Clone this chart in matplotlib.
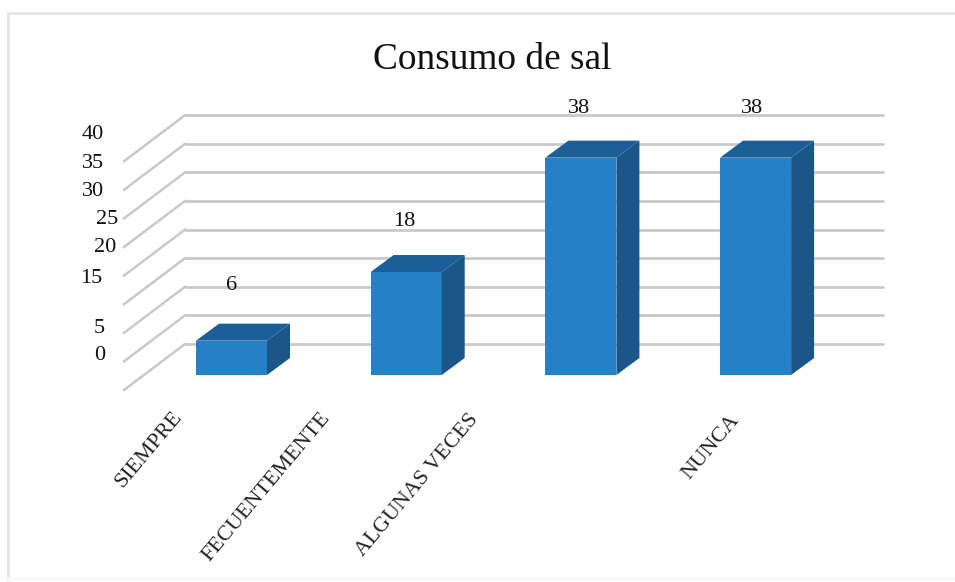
import matplotlib

matplotlib.use("Agg")
import matplotlib.pyplot as plt
from matplotlib.patches import Polygon, Rectangle

title = "Consumo de sal"
categories = ["SIEMPRE", "FECUENTEMENTE", "ALGUNAS VECES", "NUNCA"]
values = [6, 18, 38, 38]
grid_values = [0, 5, 10, 15, 20, 25, 30, 35, 40]
tick_labels = [0, 5, 15, 20, 25, 30, 35, 40]

W, H = 955, 582
PX_Y = 5.72  # pixels per unit
PX_X = 174.7  # pixels per category
X0 = 231.5  # pixel of first category
Y0 = 375  # pixel of value 0 at the bar front


def px(x, y):
    # pixel to data, only for offsets of the fake 3d box
    return (x - X0) / PX_X, (Y0 - y) / PX_Y


plt.rcParams["font.family"] = ["Liberation Serif", "DejaVu Serif"]

fig = plt.figure(figsize=(W / 100, H / 100), dpi=100)
ax = fig.add_axes([0, 0, 1, 1])
ax.set_xlim(px(0, 0)[0], px(W, 0)[0])
ax.set_ylim(px(0, H)[1], px(0, 0)[1])
ax.axis("off")

grid_color = "#c9c9c9"
front_color = "#2580c6"
top_color = "#1b5e98"
side_color = "#1a5788"

# outer frame, top and left are the only clear sides
ax.plot([8 / W, 8 / W, 1], [1 - 579 / H, 1 - 13 / H, 1 - 13 / H], transform=fig.transFigure,
        color="#e6e6e6", lw=2.2, zorder=1)
ax.plot([8 / W, 1], [1 - 579 / H, 1 - 579 / H], transform=fig.transFigure, color="#f8f8f8", lw=2, zorder=1)

# wall depth, from bar-front plane to the back wall
wall_dx = (185 - X0) / PX_X
wall_left = (124 - X0) / PX_X
wall_right = (884 - X0) / PX_X
wall_dy = (375 - 344) / PX_Y
floor_dy = (375 - 390) / PX_Y

for v in grid_values:
    ax.plot([wall_dx, wall_right], [v + wall_dy, v + wall_dy], color=grid_color, lw=2.0, zorder=2,
            solid_capstyle="butt")
    ax.plot([wall_left, wall_dx], [v + floor_dy, v + wall_dy], color=grid_color, lw=1.8, zorder=2)

# labels wander in the original, so each has its own offset
label_x = {0: 105, 5: 105, 15: 102, 20: 116, 25: 118, 30: 104, 35: 104, 40: 104}
label_dy = {0: 11, 5: 13, 15: 20, 20: 18, 25: 19, 30: 19, 35: 20, 40: 19}
for v in tick_labels:
    ax.annotate(str(v), (label_x[v] / W, v + wall_dy), xycoords=("figure fraction", "data"),
                xytext=(0, -label_dy[v] * 0.72), textcoords="offset points",
                ha="right", va="center", fontsize=16, color="#111111", zorder=6)

half = 35.5 / PX_X
depth_x = 23 / PX_X
depth_y = 17 / PX_Y

value_lift = [55, 51, 49, 49]
value_shift = [0, -2, -2, -4]
name_shift = [-60, -87, -113, -27]
name_drop = [33, 34, 35, 36]

for i, (name, v) in enumerate(zip(categories, values)):
    ax.add_patch(Rectangle((i - half, 0), 2 * half, v, fc=front_color, ec="none", zorder=4))
    ax.add_patch(Polygon([(i + half, 0), (i + half + depth_x, depth_y), (i + half + depth_x, v + depth_y),
                          (i + half, v)], fc=side_color, ec="none", zorder=4))
    ax.add_patch(Polygon([(i - half, v), (i - half + depth_x, v + depth_y), (i + half + depth_x, v + depth_y),
                          (i + half, v)], fc=top_color, ec="none", zorder=4))
    ax.annotate(str(v), (i, v), xytext=(value_shift[i] * 0.72, value_lift[i] * 0.72), textcoords="offset points",
                ha="center", va="center", fontsize=16, color="#111111", zorder=6)
    ax.annotate(name, (i, 0), xytext=(name_shift[i] * 0.72, -name_drop[i] * 0.72), textcoords="offset points",
                ha="right", va="top", rotation=50, rotation_mode="anchor", fontsize=15.8, color="#222222", zorder=6)

ax.text(0.515, 1 - 60 / H, title, transform=fig.transFigure, ha="center", va="center", fontsize=26.9,
        color="#111111", zorder=6)

fig.savefig("out.png", dpi=100)
